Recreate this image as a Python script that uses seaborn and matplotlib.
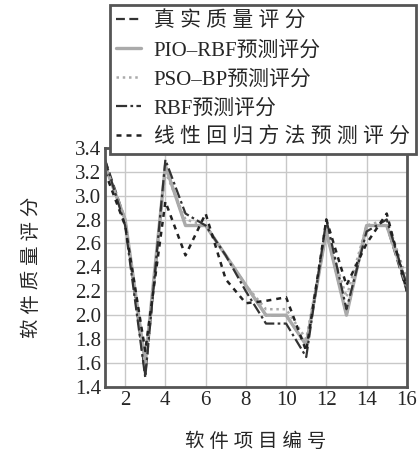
import matplotlib
matplotlib.use("Agg")
import matplotlib.pyplot as plt
import seaborn as sns
import pandas as pd

# project ids and scores
project = list(range(1, 17))
true_score = [3.30, 2.80, 1.50, 3.25, 2.75, 2.75, 2.50, 2.25, 2.00, 2.00, 1.75, 2.70, 2.00, 2.75, 2.75, 2.20]
pio_rbf = [3.25, 2.80, 1.60, 3.25, 2.75, 2.75, 2.50, 2.25, 2.00, 2.00, 1.75, 2.70, 2.00, 2.75, 2.75, 2.25]
pso_bp = [3.25, 2.80, 1.60, 3.20, 2.80, 2.75, 2.50, 2.25, 2.05, 2.05, 1.80, 2.70, 2.15, 2.75, 2.80, 2.30]
rbf = [3.30, 2.75, 1.48, 3.30, 2.85, 2.75, 2.50, 2.20, 1.93, 1.93, 1.65, 2.80, 2.05, 2.70, 2.80, 2.25]
linreg = [3.20, 2.75, 1.70, 2.95, 2.50, 2.85, 2.30, 2.10, 2.12, 2.15, 1.70, 2.80, 2.25, 2.60, 2.85, 2.20]

labels = ["真 实 质 量 评 分", "PIO–RBF预测评分", "PSO–BP预测评分", "RBF预测评分", "线 性 回 归 方 法 预 测 评 分"]
series = [true_score, pio_rbf, pso_bp, rbf, linreg]

df = pd.DataFrame({"project": project})
for lab, vals in zip(labels, series):
    df[lab] = vals

sns.set_style("whitegrid")
plt.rcParams['font.family'] = ['Liberation Serif', 'Noto Sans CJK SC']

fig = plt.figure(figsize=(4.19, 4.59), dpi=100)
ax = fig.add_axes([0.2506, 0.157, 0.7204, 0.521])

styles = [
    dict(color="#333333", linestyle=(0, (4, 2)), linewidth=1.6),
    dict(color="#aaaaaa", linestyle="-", linewidth=2.4),
    dict(color="#aaaaaa", linestyle=(0, (1, 1.5)), linewidth=1.8),
    dict(color="#333333", linestyle=(0, (5, 1.5, 1.2, 1.5)), linewidth=1.6),
    dict(color="#222222", linestyle=(0, (2, 2)), linewidth=1.8),
]
for lab, st in zip(labels, styles):
    sns.lineplot(data=df, x="project", y=lab, ax=ax, label=lab, **st)

ax.set_xlim(1, 16)
ax.set_ylim(1.4, 3.4)
ax.set_xticks(range(2, 17, 2))
ax.set_yticks([1.4 + 0.2 * i for i in range(11)])
ax.set_yticklabels([f"{1.4 + 0.2 * i:.1f}" for i in range(11)])
ax.tick_params(labelsize=15, length=0, pad=3)
ax.grid(True, color="#c8c8c8", linewidth=1.0)
for s in ax.spines.values():
    s.set_color("#555555")
    s.set_linewidth(2)

ax.set_xlabel("软 件 项 目 编 号", fontsize=14, labelpad=16)
ax.set_ylabel("软 件 质 量 评 分", fontsize=14, labelpad=24)

leg = ax.legend(loc="upper left", bbox_to_anchor=(110 / 419, 1 - 5 / 459),
                bbox_transform=fig.transFigure, fontsize=15, handlelength=1.2,
                handletextpad=0.6, labelspacing=0.45, borderpad=0.3,
                borderaxespad=0, fancybox=False, framealpha=1,
                edgecolor="#555555")
leg.get_frame().set_linewidth(2)

fig.savefig("out.png", dpi=100)
